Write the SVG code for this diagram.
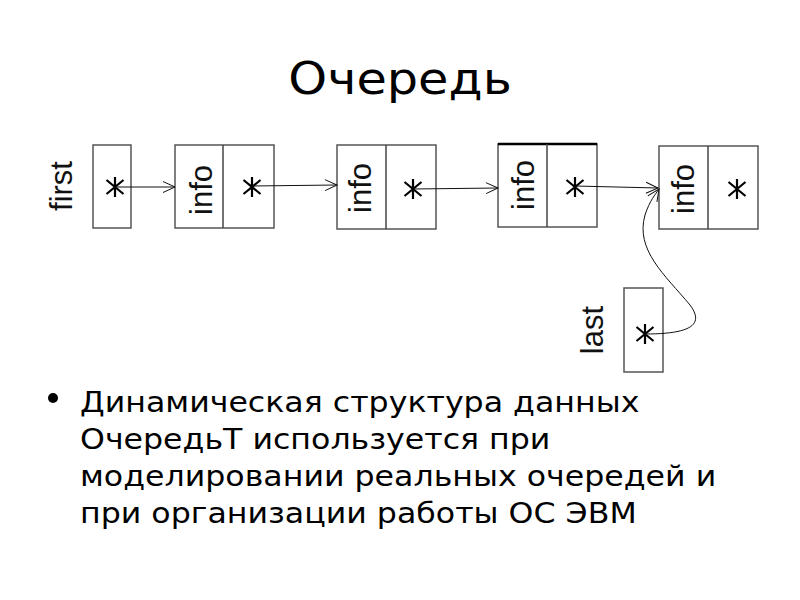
<svg xmlns="http://www.w3.org/2000/svg" width="800" height="600" viewBox="0 0 800 600">
<style>
.box{fill:#fff;stroke:#555;stroke-width:1.5}
.div{stroke:#444;stroke-width:1.5}
.lbl{font-family:"Liberation Sans",Arial,sans-serif;font-size:31px;fill:#111;text-anchor:middle}
.star{stroke:#000;stroke-width:2.2;fill:none}
.con{stroke:#111;stroke-width:1;fill:none}
.t{font-family:"DejaVu Sans",sans-serif;fill:#000}
</style>
<defs>
<marker id="ah" markerWidth="16" markerHeight="14" refX="13" refY="7" orient="auto" markerUnits="userSpaceOnUse">
<path d="M1,1.5 L13,7 L1,12.5" fill="none" stroke="#111" stroke-width="1"/>
</marker>
<path id="st" d="M0,-10 V10 M-8.5,-7 L8.5,7 M-8.5,7 L8.5,-7"/>
</defs>
<rect width="800" height="600" fill="#fff"/>
<text class="t" transform="scale(1.11,1)" x="360.4" y="94" font-size="44.5" text-anchor="middle">Очередь</text>

<g id="first">
<text class="lbl" transform="translate(72,186) rotate(-90)">first</text>
<rect class="box" x="93" y="145" width="38" height="83"/>
<use href="#st" class="star" x="115" y="187"/>
</g>
<g id="node1">
<rect class="box" x="175" y="145" width="99" height="83"/>
<line class="div" x1="223" y1="145" x2="223" y2="228"/>
<text class="lbl" transform="translate(212,190) rotate(-90)">info</text>
<use href="#st" class="star" x="252" y="187"/>
</g>
<g id="node2">
<rect class="box" x="337" y="145" width="99" height="84"/>
<line class="div" x1="386" y1="145" x2="386" y2="229"/>
<text class="lbl" transform="translate(371,188) rotate(-90)">info</text>
<use href="#st" class="star" x="413" y="189"/>
</g>
<g id="node3">
<rect class="box" x="498" y="144" width="99" height="83"/>
<line x1="498" y1="144" x2="597" y2="144" stroke="#000" stroke-width="2.5"/>
<line class="div" x1="547" y1="144" x2="547" y2="227"/>
<text class="lbl" transform="translate(534,185) rotate(-90)">info</text>
<use href="#st" class="star" x="575" y="187"/>
</g>
<g id="node4">
<rect class="box" x="659" y="146" width="99" height="83"/>
<line class="div" x1="708" y1="146" x2="708" y2="229"/>
<text class="lbl" transform="translate(694,189) rotate(-90)">info</text>
<use href="#st" class="star" x="737" y="189"/>
</g>
<g id="last">
<text class="lbl" transform="translate(603,330) rotate(-90)">last</text>
<rect class="box" x="624" y="288" width="39" height="84"/>
<use href="#st" class="star" x="645" y="334"/>
</g>

<g id="connectors">
<line class="con" x1="115" y1="187" x2="175" y2="187" marker-end="url(#ah)"/>
<line class="con" x1="252" y1="186" x2="337" y2="185" marker-end="url(#ah)"/>
<line class="con" x1="413" y1="189" x2="498" y2="188" stroke-width="1.8" marker-end="url(#ah)"/>
<line class="con" x1="575" y1="186" x2="658" y2="188" marker-end="url(#ah)"/>
<path class="con" d="M645,334 C690,334 705,325 690,305 C665,275 635,250 645,215 C650,200 655,195 659,189" marker-end="url(#ah)"/>
</g>

<g id="bullet">
<circle cx="53" cy="398" r="5" fill="#000"/>
<text class="t" font-size="28" transform="scale(1.13,1)">
<tspan x="70.8" y="412">Динамическая структура данных</tspan>
<tspan x="70.8" y="449">ОчередьТ используется при</tspan>
<tspan x="70.8" y="486">моделировании реальных очередей и</tspan>
<tspan x="70.8" y="523">при организации работы ОС ЭВМ</tspan>
</text>
</g>
</svg>
